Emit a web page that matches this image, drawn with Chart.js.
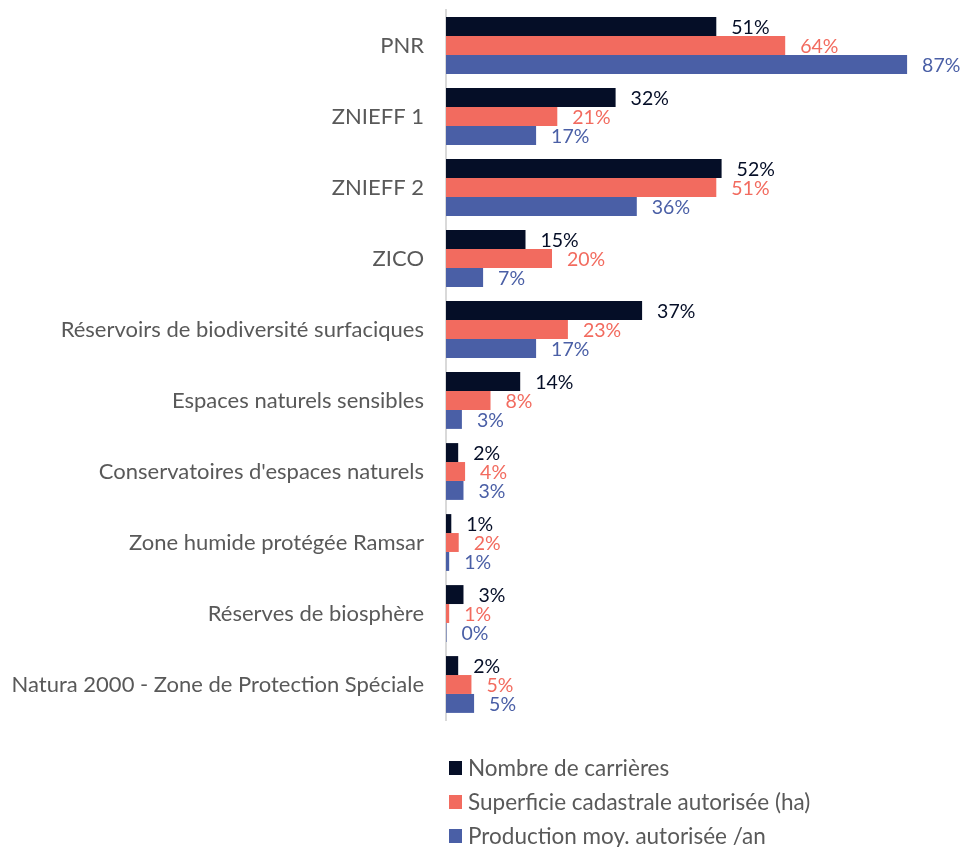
<!DOCTYPE html>
<html><head><meta charset="utf-8">
<script src="https://cdn.jsdelivr.net/npm/chart.js@4"></script>
<style>html,body{margin:0;padding:0;background:#fff;}#wrap{width:976px;height:847px;position:relative;}</style>
</head><body><div id="wrap"><canvas id="c" width="976" height="847"></canvas></div>
<script>
const categories = ["PNR","ZNIEFF 1","ZNIEFF 2","ZICO","Réservoirs de biodiversité surfaciques","Espaces naturels sensibles","Conservatoires d'espaces naturels","Zone humide protégée Ramsar","Réserves de biosphère","Natura 2000 - Zone de Protection Spéciale"];
const seriesNames = ["Nombre de carrières","Superficie cadastrale autorisée (ha)","Production moy. autorisée /an"];
const nombreCarrieres = [51,32,52,15,37,14,2.3,1.0,3.3,2.3];
const superficie = [64,21,51,20,23,8.4,3.6,2.4,0.6,4.8];
const production = [87,17,36,7,17,3,3.3,0.6,0.1,5.3];
const colors = ["#050E27","#F26B5F","#4A5FA6"];
const labelColors = ["#050E27","#F26B5F","#4A5FA6"];
const FONT = "Lato, 'Open Sans', sans-serif";

const valueLabels = {
  id:'valueLabels',
  afterDatasetsDraw(chart){
    const ctx = chart.ctx;
    ctx.save();
    ctx.font = "19.5px " + FONT;
    ctx.textBaseline = 'middle';
    ctx.textAlign = 'left';
    chart.data.datasets.forEach((ds,di)=>{
      const meta = chart.getDatasetMeta(di);
      meta.data.forEach((el,i)=>{
        ctx.fillStyle = labelColors[di];
        ctx.fillText(Math.round(ds.data[i]) + '%', el.x + 15, el.y + 1);
      });
    });
    ctx.restore();
  }
};
const vLegend = {
  id:'vLegend',
  afterDraw(chart){
    const ctx = chart.ctx;
    ctx.save();
    ctx.font = "22.5px " + FONT;
    ctx.textBaseline = 'middle';
    ctx.textAlign = 'left';
    const x0 = chart.chartArea.left + 3;
    chart.data.datasets.forEach((ds,di)=>{
      const y = 768 + di*34;
      ctx.fillStyle = ds.backgroundColor;
      ctx.fillRect(x0, y-7, 13, 14);
      ctx.fillStyle = '#595959';
      ctx.fillText(ds.label, x0 + 19, y+1);
    });
    ctx.restore();
  }
};

new Chart(document.getElementById('c'), {
  type:'bar',
  data:{
    labels: categories,
    datasets:[
      {label:seriesNames[0], data:nombreCarrieres, backgroundColor:colors[0]},
      {label:seriesNames[1], data:superficie, backgroundColor:colors[1]},
      {label:seriesNames[2], data:production, backgroundColor:colors[2]}
    ]
  },
  options:{
    indexAxis:'y',
    responsive:false,
    animation:false,
    layout:{padding:{top:10,bottom:127,left:0,right:0}},
    datasets:{bar:{categoryPercentage:0.8,barPercentage:1.0}},
    plugins:{legend:{display:false},tooltip:{enabled:false}},
    scales:{
      x:{display:false,min:0,max:100},
      y:{
        afterFit(s){ s.width = 446; s.paddingTop = 0; s.paddingBottom = 0; },
        grid:{display:false,drawTicks:false},
        border:{display:true,color:'#D9D9D9',width:2},
        ticks:{color:'#595959',font:{family:FONT,size:22},padding:22}
      }
    }
  },
  plugins:[valueLabels,vLegend]
});
</script></body></html>
